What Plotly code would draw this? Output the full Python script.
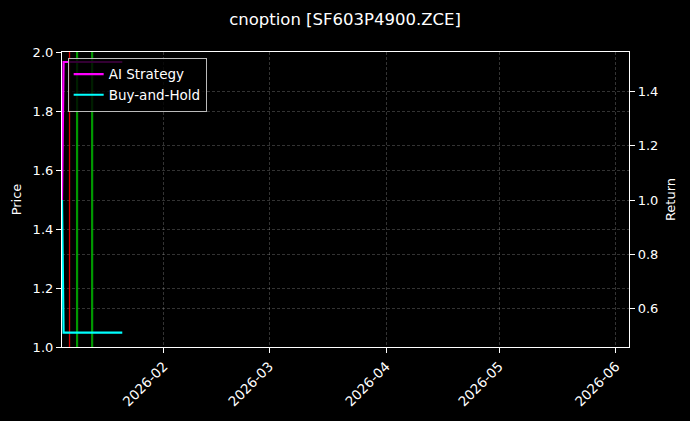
import plotly.graph_objects as go

TITLE = "cnoption [SF603P4900.ZCE]"

# equity curves (normalised to 1.0 at start)
dates = ["2026-01-05 00:00", "2026-01-05 10:00", "2026-01-21 00:00"]
strategy_ret = [1.0, 1.51, 1.51]
bh_ret = [1.0, 0.51, 0.51]

# signal dates
sell_dates = ["2026-01-07"]
buy_dates = ["2026-01-09", "2026-01-13"]

x_range = ["2026-01-05 00:00", "2026-06-04 12:00"]
price_range = [1.0, 2.0]
ret_range = [0.457, 1.547]

FONT = "DejaVu Sans"
GRID = "rgba(255,255,255,0.2)"
DASH = "3px,2px"

fig = go.Figure()

# vertical signal lines on the price axis
for d in sell_dates:
    fig.add_trace(go.Scatter(x=[d, d], y=price_range, mode="lines",
                             line=dict(color="rgba(255,0,0,0.85)", width=1.3),
                             showlegend=False, hoverinfo="skip"))
for d in buy_dates:
    fig.add_trace(go.Scatter(x=[d, d], y=price_range, mode="lines",
                             line=dict(color="rgba(0,190,0,0.8)", width=2.2),
                             showlegend=False, hoverinfo="skip"))

fig.add_trace(go.Scatter(name="AI Strategy", x=dates, y=strategy_ret,
                         mode="lines", yaxis="y2",
                         line=dict(color="#ff00ff", width=2.2)))
fig.add_trace(go.Scatter(name="Buy-and-Hold", x=dates, y=bh_ret,
                         mode="lines", yaxis="y2",
                         line=dict(color="#00ffff", width=2.2)))

fig.update_layout(
    width=690, height=421,
    margin=dict(l=62, r=61, t=52, b=70),
    paper_bgcolor="black", plot_bgcolor="black",
    font=dict(family=FONT, color="white", size=13),
    title=dict(text=TITLE, x=0.5, xanchor="center", y=0.955, yanchor="middle",
               font=dict(size=16.5, color="white")),
    showlegend=True,
    legend=dict(x=0.01, y=0.98, xanchor="left", yanchor="top",
                bgcolor="rgba(0,0,0,0.8)", bordercolor="#bbbbbb",
                borderwidth=1, font=dict(size=13.5, color="white"),
                tracegroupgap=2),
    xaxis=dict(type="date", range=x_range, tickformat="%Y-%m",
               dtick="M1", tick0="2026-02-01", tickangle=-45,
               showgrid=True, gridcolor=GRID, gridwidth=0.6, griddash=DASH,
               showline=True, linecolor="white", linewidth=1.2, mirror=True,
               ticks="outside", ticklen=5, tickcolor="white",
               zeroline=False, tickfont=dict(size=13.5)),
    yaxis=dict(range=price_range, dtick=0.2, tick0=1.0, tickformat=".1f",
               title=dict(text="Price", font=dict(size=13), standoff=8),
               showgrid=True, gridcolor=GRID, gridwidth=0.6, griddash=DASH,
               showline=True, linecolor="white", linewidth=1.2,
               ticks="outside", ticklen=5, tickcolor="white", zeroline=False),
    yaxis2=dict(range=ret_range, dtick=0.2, tick0=0.6, tickformat=".1f",
                overlaying="y", side="right",
                title=dict(text="Return", font=dict(size=13), standoff=8),
                showgrid=True, gridcolor=GRID, gridwidth=0.6, griddash=DASH,
                showline=True, linecolor="white", linewidth=1.2,
                ticks="outside", ticklen=5, tickcolor="white", zeroline=False),
)

# drop the default page margin so the figure fills the window
fig.write_html("out.html", config={"displayModeBar": False},
               post_script="document.body.style.margin='0';"
                           "document.body.style.background='black';")
